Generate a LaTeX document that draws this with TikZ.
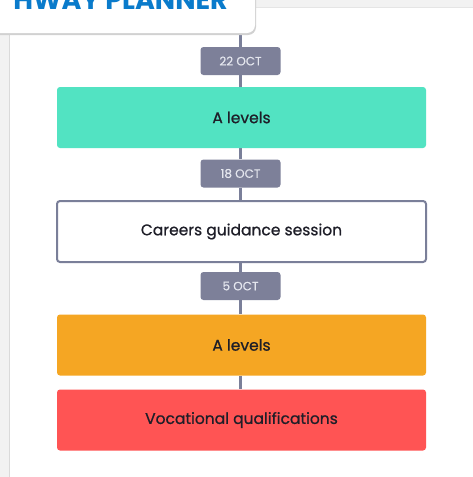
\documentclass[tikz,border=0pt]{standalone}
\usepackage{fontspec}
\setmainfont{Poppins}
\usetikzlibrary{backgrounds}
\definecolor{bgray}{HTML}{F2F2F2}
\definecolor{edgegray}{HTML}{DADADA}
\definecolor{linec}{HTML}{7A7F99}
\definecolor{tagc}{HTML}{7D8099}
\definecolor{tagtext}{HTML}{E4E6EE}
\definecolor{teal}{HTML}{52E3C2}
\definecolor{orangec}{HTML}{F5A623}
\definecolor{redc}{HTML}{FF5454}
\definecolor{txt}{HTML}{1E1E28}
\definecolor{titleblue}{HTML}{0A7BCB}
\tikzset{
  x=1pt,y=1pt,
  box/.style={minimum width=369pt,minimum height=61pt,rounded corners=3pt,inner sep=0pt,font=\fontsize{15.5}{17}\selectfont\addfontfeature{FakeBold=0.8},text=txt},
  tag/.style={fill=tagc,rounded corners=3pt,minimum width=80pt,minimum height=28pt,inner sep=0pt,font=\fontsize{12}{13}\selectfont\addfontfeature{FakeBold=0.5},text=tagtext},
  conn/.style={linec,line width=3pt}
}
\begin{document}
\begin{tikzpicture}
\useasboundingbox (0,0) rectangle (473,-477);
\begin{scope}[on background layer]
\fill[bgray] (0,0) rectangle (473,-477);
\fill[white] (10,-8) rectangle (473,-477);
\draw[edgegray,line width=1pt] (9.5,-8) -- (9.5,-477);
\draw[edgegray!70,line width=0.8pt] (10,-7.5) -- (473,-7.5);
\end{scope}
% title card
\fill[black!18,rounded corners=8pt] (-10,20) rectangle (256,-35);
\fill[white,rounded corners=8pt] (-10,20) rectangle (255,-33);
\node[inner sep=0pt,anchor=south east,font=\fontsize{27}{30}\bfseries\selectfont,text=titleblue] (title) at (228,-9.5) {HWAY PLANNER};
\coordinate (cardbot) at (240.5,-33);
% tags and boxes
\node[tag] (t1) at (240.5,-61) {22 OCT};
\node[box,fill=teal] (b1) at (241.5,-117.5) {A levels};
\node[tag] (t2) at (240.5,-173.5) {18 OCT};
\node[box,fill=white,draw=linec,line width=2pt] (b2) at (241.5,-231.5) {Careers guidance session};
\node[tag] (t3) at (240.5,-286) {5 OCT};
\node[box,fill=orangec] (b3) at (241.5,-345) {A levels};
\node[box,fill=redc] (b4) at (241.5,-420) {Vocational qualifications};
\begin{scope}[on background layer]
\draw[conn] (cardbot) -- (t1.north);
\draw[conn] (t1.south) -- (t1.south |- b1.north);
\draw[conn] (t1.south |- b1.south) -- (t2.north);
\draw[conn] (t2.south) -- (t2.south |- b2.north);
\draw[conn] (t2.south |- b2.south) -- (t3.north);
\draw[conn] (t3.south) -- (t3.south |- b3.north);
\draw[conn] (t3.south |- b3.south) -- (t3.south |- b4.north);
\end{scope}
\end{tikzpicture}
\end{document}
